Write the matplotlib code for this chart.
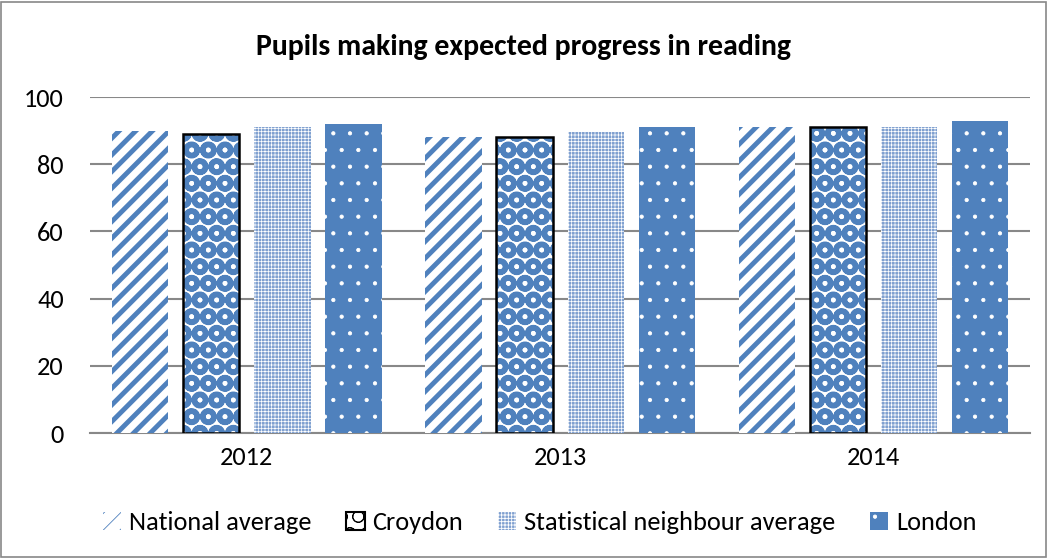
import numpy as np
import matplotlib.pyplot as plt
from matplotlib.patches import Patch, Rectangle

plt.rcParams['font.family'] = ['Carlito', 'Liberation Sans', 'DejaVu Sans']

years = ['2012', '2013', '2014']
series = ['National average', 'Croydon', 'Statistical neighbour average', 'London']
national = [90, 88, 91]
croydon = [89, 88, 91]
stat_neigh = [91, 89.5, 91]
london = [92, 91, 93]
values = [national, croydon, stat_neigh, london]

blue = '#4f81bd'
light = '#7fa0d0'
# face, hatch colour, hatch, hatch linewidth
styles = [
    ('white', blue, '//', 3.5),
    ('white', blue, 'O', 3.8),
    (light, 'white', '+++++', 0.5),
    (blue, 'white', '.', 0.6),
]

fig = plt.figure(figsize=(10.48, 5.58), dpi=100)
fig.patches.append(Rectangle((0.001, 0.002), 0.997, 0.995, transform=fig.transFigure,
                             fill=False, edgecolor='#888888', linewidth=1.2))
ax = fig.add_axes([0.086, 0.224, 0.897, 0.602])

x = np.arange(len(years))
w = 0.18
step = 0.227
offsets = (np.arange(4) - 1.5) * step

handles = []
for i in range(4):
    face, hc, hatch, hlw = styles[i]
    plt.rcParams['hatch.linewidth'] = hlw
    ax.bar(x + offsets[i], values[i], w, color=face, edgecolor=hc, linewidth=0,
           hatch=hatch, zorder=3)
    if i == 1:
        ax.bar(x + offsets[i], values[i], w, fill=False, edgecolor='black',
               linewidth=1.8, zorder=4)
    handles.append(Patch(facecolor=face, edgecolor='black' if i == 1 else hc,
                         linewidth=1.5 if i == 1 else 0, hatch=hatch))

ax.set_xlim(-0.5, 2.5)
ax.set_ylim(0, 100)
ax.set_yticks([0, 20, 40, 60, 80, 100])
ax.set_xticks(x)
ax.set_xticklabels(years)
ax.tick_params(axis='y', length=0, labelsize=19, pad=19)
ax.tick_params(axis='x', length=0, labelsize=19, pad=9)
ax.grid(axis='y', color='#888888', linewidth=1.5, zorder=0)
ax.set_axisbelow(True)
for s in ['top', 'right', 'left']:
    ax.spines[s].set_visible(False)
ax.spines['bottom'].set_color('#888888')
ax.spines['bottom'].set_linewidth(1.5)

fig.text(0.5, 0.916, 'Pupils making expected progress in reading', ha='center',
         va='center', fontsize=21.5, fontweight='bold')

fig.legend(handles, series, loc='center', bbox_to_anchor=(0.515, 0.063), ncol=4,
           frameon=False, fontsize=19, handlelength=0.7, handleheight=0.7,
           handletextpad=0.3, columnspacing=1.3)

fig.savefig('out.png', dpi=100)
